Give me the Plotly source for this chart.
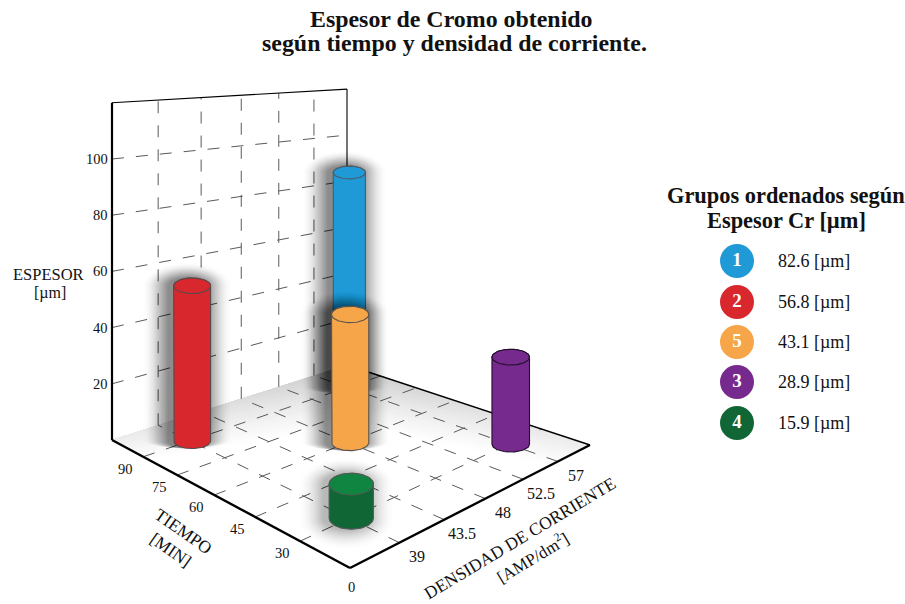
import numpy as np
import plotly.graph_objects as go

# Chart values
density_ticks = [39, 43.5, 48, 52.5, 57]
time_ticks = [30, 45, 60, 75, 90]
thickness_ticks = [20, 40, 60, 80, 100]
density_range = (34.5, 61.5)
time_range = (15, 105)
thickness_max = 120

group_ids = [1, 2, 5, 3, 4]
group_density = [57, 39, 48, 57, 39]
group_time = [90, 90, 60, 30, 30]
group_thickness = [82.6, 56.8, 43.1, 28.9, 15.9]

group_colors = {1: "#1f9ad6", 2: "#d8272d", 5: "#f6a548", 3: "#762a8e", 4: "#116636"}
top_colors = {1: "#1f9ad6", 2: "#d8272d", 5: "#f6a548", 3: "#762a8e", 4: "#0f8541"}
outline_colors = {1: "#4d5a63", 2: "#5a4a4a", 5: "#5a5550", 3: "#20102a", 4: "#505a52"}

# Per-column drawing style: vertical scale along the column, lid roundness, shadow
column_scale = {1: 2.6, 2: 2.73, 5: 2.97, 3: 3.01, 4: 2.15}
lid_ratio = {1: 0.40, 2: 0.42, 5: 0.44, 3: 0.42, 4: 0.49}
shadow_alpha = {1: 0.04, 2: 0.04, 5: 0.04, 3: 0.0, 4: 0.022}
draw_order = [1, 2, 5, 3, 4]

SERIF = "Liberation Serif"

# Perspective plane of the floor: unit square -> screen quad
FRONT, RIGHT, LEFT, BACK = (350, 568), (590, 445), (112, 440), (347, 365)
src = [(0, 0), (1, 0), (0, 1), (1, 1)]
dst = [FRONT, RIGHT, LEFT, BACK]
A, b = [], []
for (u, v), (x, y) in zip(src, dst):
    A.append([u, v, 1, 0, 0, 0, -u * x, -v * x]); b.append(x)
    A.append([0, 0, 0, u, v, 1, -u * y, -v * y]); b.append(y)
h = np.linalg.solve(np.array(A, float), np.array(b, float))
w_left = h[7] + 1
Z_SCALE = 2.81 * w_left


def floor_uv(u, v):
    w = h[6] * u + h[7] * v + 1
    return (h[0] * u + h[1] * v + h[2]) / w, (h[3] * u + h[4] * v + h[5]) / w, w


def frac_d(d):
    return (d - density_range[0]) / (density_range[1] - density_range[0])


def frac_t(t):
    return (t - time_range[0]) / (time_range[1] - time_range[0])


def project(u, v, z=0.0):
    x, y, w = floor_uv(u, v)
    return x, y - z * Z_SCALE / w


fig = go.Figure()


def poly(points, fill, line=None, width=0):
    xs, ys = zip(*points)
    fig.add_trace(go.Scatter(
        x=list(xs) + [xs[0]], y=list(ys) + [ys[0]], mode="lines", fill="toself",
        fillcolor=fill, line=dict(color=line or fill, width=width),
        hoverinfo="skip", showlegend=False))


def segment(p, q, color="#000000", width=1.0, dash=None):
    fig.add_trace(go.Scatter(
        x=[p[0], q[0]], y=[p[1], q[1]], mode="lines",
        line=dict(color=color, width=width, dash=dash),
        hoverinfo="skip", showlegend=False))


# Floor shading: nested level sets, darkest towards the back corner
KNEE = 0.35
for s in np.linspace(1 + KNEE, 0.8, 34):
    a = s / (1 + KNEE)
    if s > 1:
        e = (s - 1) / KNEE
        corners = [(0, 0), (1, 0), (1, e), (a, a), (e, 1), (0, 1)]
    else:
        corners = [(0, 0), (s, 0), (a, a), (0, s)]
    t = (s - 0.8) / (1 + KNEE - 0.8)
    grey = int(round(255 - 52 * t ** 1.1))
    poly([project(u, v) for u, v in corners], f"rgb({grey},{grey},{grey})")

GRID = "#5a5a5a"
DASH = "12px,12px"

# Back wall grid
for d in density_ticks:
    segment(project(frac_d(d), 1), project(frac_d(d), 1, thickness_max), GRID, 1, DASH)
for z in thickness_ticks:
    segment(project(0, 1, z), project(0.98, 1, z), GRID, 1, DASH)

# Floor grid
for d in density_ticks:
    segment(project(frac_d(d), 0), project(frac_d(d), 1), GRID, 1, DASH)
for t in time_ticks:
    segment(project(0, frac_t(t)), project(1, frac_t(t)), GRID, 1, DASH)

# Frame
segment(project(0, 1), project(0, 1, thickness_max), "#000000", 2.2)
segment(project(0, 1, thickness_max), project(1, 1, thickness_max), "#000000", 1.1)
segment(project(1, 1), project(1, 1, thickness_max), "#000000", 1.1)
segment(project(1, 1), project(1, 0), "#000000", 1.4)
segment(project(0, 1), project(0, 0), "#000000", 2.4)
segment(project(0, 0), project(1, 0), "#000000", 2.4)


def silhouette(cx, y_base, y_top, rx, ry, grow=0.0, shift=0.0, grow_bottom=0.0):
    ang = np.linspace(0, np.pi, 40)
    top = [(cx + shift + (rx + grow) * np.cos(a), y_top - (ry + grow * 0.6) * np.sin(a)) for a in ang]
    bot = [(cx + shift - (rx + grow) * np.cos(a), y_base + (ry + grow_bottom) * np.sin(a)) for a in ang]
    return top + bot


BAR_RADIUS = 6.55
CENTER_SHIFT = 2.0
SHADOW_REACH = 26
index = {g: i for i, g in enumerate(group_ids)}
for g in draw_order:
    i = index[g]
    u, v = frac_d(group_density[i]), frac_t(group_time[i])
    cx, y_base, w = floor_uv(u, v)
    cx += CENTER_SHIFT
    y_top = y_base - group_thickness[i] * column_scale[g]
    rx = BAR_RADIUS * Z_SCALE / w
    ry = rx * lid_ratio[g]
    alpha = shadow_alpha[g]
    if alpha:
        soft_floor = g == 4
        # Soft shadow: one-pixel rings whose opacity fades towards the outside
        for k in range(SHADOW_REACH, 0, -1):
            fade = (1 - k / (SHADOW_REACH + 1)) ** 0.9
            shape = silhouette(cx, y_base, y_top, rx, ry, grow=float(k), shift=-5.0,
                               grow_bottom=k * 0.8 if soft_floor else 0.0)
            poly(shape, f"rgba(0,0,0,{alpha * fade:.4f})")
    poly(silhouette(cx, y_base, y_top, rx, ry), group_colors[g], outline_colors[g], 1.1)
    ang = np.linspace(0, 2 * np.pi, 72)
    poly([(cx + rx * np.cos(a), y_top + ry * np.sin(a)) for a in ang],
         top_colors[g], outline_colors[g], 1.1)

annotations = []


def label(x, y, text, size=13, bold=False, angle=0, xanchor="center"):
    if bold:
        text = f"<b>{text}</b>"
    annotations.append(dict(
        x=x, y=y, xref="x", yref="y", text=text, showarrow=False, textangle=angle,
        xanchor=xanchor, yanchor="middle", align="center",
        font=dict(family=SERIF, size=size, color="#111111")))


# Titles
label(451, 19, "Espesor de Cromo obtenido", 23.9, True)
label(454, 43, "según tiempo y densidad de corriente.", 23.9, True)

# Axis tick labels
for z in thickness_ticks:
    x, y = project(0, 1, z)
    label(x - 2, y, str(z), 14.5, xanchor="right")
for t in time_ticks:
    x, y = project(0, frac_t(t))
    label(x - 18, y + 12, str(t), 14.5)
for d in density_ticks:
    x, y = project(frac_d(d), 0)
    label(x + 18, y + 14, f"{d:g}", 16)
label(351, 587, "0", 14.5)

# Axis titles
label(11, 274, "ESPESOR", 16.5, xanchor="left")
label(50, 293, "[µm]", 16)
label(183, 531, "TIEMPO", 17.5, angle=35)
label(171, 550, "[MIN]", 17.5, angle=35)
label(520, 538, "DENSIDAD DE CORRIENTE", 17.5, angle=-31)
label(532, 557, "[AMP/dm<sup>2</sup>]", 17, angle=-31)

# Group key
label(786, 195, "Grupos ordenados según", 22.4, True)
label(786, 220, "Espesor Cr [µm]", 22.4, True)
key_y = [261, 302, 342, 382, 423]
fig.add_trace(go.Scatter(
    x=[737] * len(group_ids), y=key_y, mode="markers+text",
    marker=dict(size=34, color=[group_colors[g] for g in group_ids], line=dict(width=0)),
    text=[f"<b>{g}</b>" for g in group_ids], textposition="middle center",
    textfont=dict(family=SERIF, size=19, color="#ffffff"),
    hoverinfo="skip", showlegend=False))
for yy, val in zip(key_y, group_thickness):
    label(776, yy, f"{val} [µm]", 18, xanchor="left")

fig.update_layout(
    width=905, height=604, autosize=False, showlegend=False,
    margin=dict(l=0, r=0, t=0, b=0),
    paper_bgcolor="#ffffff", plot_bgcolor="#ffffff",
    xaxis=dict(range=[0, 905], visible=False, fixedrange=True),
    yaxis=dict(range=[604, 0], visible=False, fixedrange=True),
    annotations=annotations)
fig.write_html("out.html", config={"displayModeBar": False, "responsive": False})
